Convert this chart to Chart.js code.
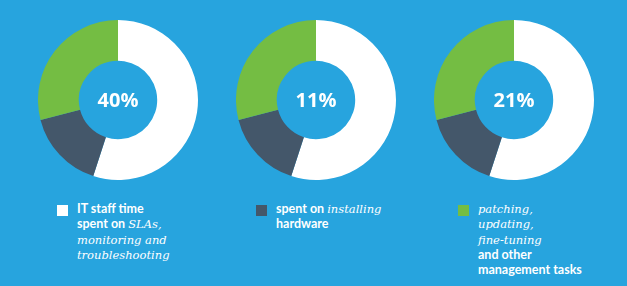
<!DOCTYPE html>
<html lang="en">
<head>
  <meta charset="UTF-8" />
  <title>IT staff time</title>
  <script src="https://cdn.jsdelivr.net/npm/chart.js"></script>
  <style>
    html, body {
      margin: 0;
      padding: 0;
    }
    body {
      width: 627px;
      height: 286px;
      overflow: hidden;
      position: relative;
      background: #27a4de;
      font-family: 'Lato', sans-serif;
      color: #fff;
    }
    .donut {
      position: absolute;
      top: 20px;
    }
    .legend {
      position: absolute;
      top: 201px;
      font-size: 12.5px;
      font-weight: bold;
    }
    .legend .row {
      height: 15.3px;
      line-height: 15px;
      white-space: nowrap;
    }
    .legend .box {
      position: absolute;
      left: -20px;
      top: 4px;
      width: 11px;
      height: 11px;
    }
    .legend i {
      font-family: 'DejaVu Serif', serif;
      font-weight: normal;
      font-size: 11.5px;
    }
  </style>
</head>
<body>
  <canvas id="c0" class="donut" width="160" height="160" style="left:38px"></canvas>
  <canvas id="c1" class="donut" width="160" height="160" style="left:236px"></canvas>
  <canvas id="c2" class="donut" width="160" height="160" style="left:434px"></canvas>

  <div id="l0" class="legend" style="left:77px"></div>
  <div id="l1" class="legend" style="left:276px"></div>
  <div id="l2" class="legend" style="left:478px"></div>

  <script>
    // slices: staff time, hardware, management tasks (one entry per legend line)
    const categories = [
      ['IT staff time', 'spent on <i>SLAs,</i>', '<i>monitoring and</i>', '<i>troubleshooting</i>'],
      ['spent on <i>installing</i>', 'hardware'],
      ['<i>patching,</i>', '<i>updating,</i>', '<i>fine-tuning</i>', 'and other', 'management tasks']
    ];
    const sliceColors = ['#ffffff', '#44576a', '#74bd43'];

    const chart1Values = [55, 16, 29];
    const chart2Values = [55, 16, 29];
    const chart3Values = [55, 16, 29];
    const centerLabels = ['40%', '11%', '21%'];

    const allValues = [chart1Values, chart2Values, chart3Values];

    const centerText = {
      id: 'centerText',
      afterDraw(chart, args, opts) {
        const { ctx, chartArea } = chart;
        const x = (chartArea.left + chartArea.right) / 2;
        const y = (chartArea.top + chartArea.bottom) / 2;
        ctx.save();
        ctx.fillStyle = '#fff';
        ctx.font = 'bold 20px "Open Sans"';
        ctx.textAlign = 'center';
        ctx.textBaseline = 'middle';
        ctx.fillText(opts.text, x, y + 1);
        ctx.restore();
      }
    };

    allValues.forEach((vals, i) => {
      new Chart(document.getElementById('c' + i), {
        type: 'doughnut',
        data: {
          labels: ['staff time', 'installing hardware', 'management tasks'],
          datasets: [{
            data: vals,
            backgroundColor: sliceColors,
            borderWidth: 0
          }]
        },
        options: {
          responsive: false,
          animation: false,
          cutout: '49%',
          plugins: {
            legend: { display: false },
            tooltip: { enabled: false },
            centerText: { text: centerLabels[i] }
          }
        },
        plugins: [centerText]
      });

      const lg = document.getElementById('l' + i);
      lg.innerHTML = '<span class="box" style="background:' + sliceColors[i] + '"></span>' +
        categories[i].map(t => '<div class="row">' + t + '</div>').join('');
    });
  </script>
</body>
</html>
